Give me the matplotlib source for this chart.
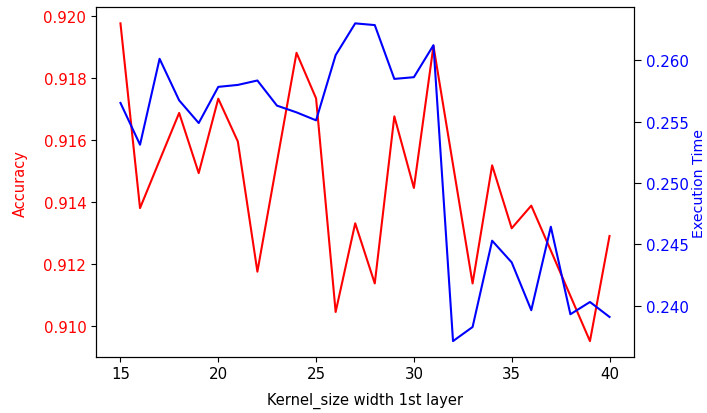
import matplotlib
matplotlib.use("Agg")
import matplotlib.pyplot as plt

# kernel size width of the first layer
kernel_sizes = list(range(15, 41))

accuracy = [0.91976, 0.91380, 0.91534, 0.91687, 0.91493, 0.91733, 0.91595,
            0.91175, 0.91529, 0.91881, 0.91734, 0.91045, 0.91331, 0.91137,
            0.91676, 0.91445, 0.91903, 0.91520, 0.91137, 0.91518, 0.91315,
            0.91388, 0.91243, 0.91097, 0.90951, 0.91290]

exec_time = [0.25653, 0.25312, 0.26013, 0.25674, 0.25489, 0.25784, 0.25800,
             0.25836, 0.25631, 0.25576, 0.25511, 0.26043, 0.26302, 0.26288,
             0.25849, 0.25863, 0.26124, 0.23710, 0.23825, 0.24529, 0.24352,
             0.23962, 0.24643, 0.23929, 0.24029, 0.23907]

fig = plt.figure(figsize=(7.07, 4.14), dpi=100)
ax1 = fig.add_axes([0.1358, 0.1353, 0.7609, 0.8442])

ax1.plot(kernel_sizes, accuracy, color='r')
ax1.set_xlabel("Kernel_size width 1st layer", fontsize=10.5, labelpad=8)
ax1.set_ylabel("Accuracy", color='r', fontsize=10.5, labelpad=11)
ax1.tick_params(axis='y', labelcolor='r', labelsize=10.8)
ax1.tick_params(axis='x', labelsize=10.8, pad=3)
ax1.set_xticks([15, 20, 25, 30, 35, 40])

ax2 = ax1.twinx()
ax2.plot(kernel_sizes, exec_time, color='b')
ax2.set_ylabel("Execution Time", color='b', fontsize=10.2, labelpad=2.5)
ax2.tick_params(axis='y', labelcolor='b', labelsize=10.8, length=5)

fig.savefig("out.png", dpi=100)
